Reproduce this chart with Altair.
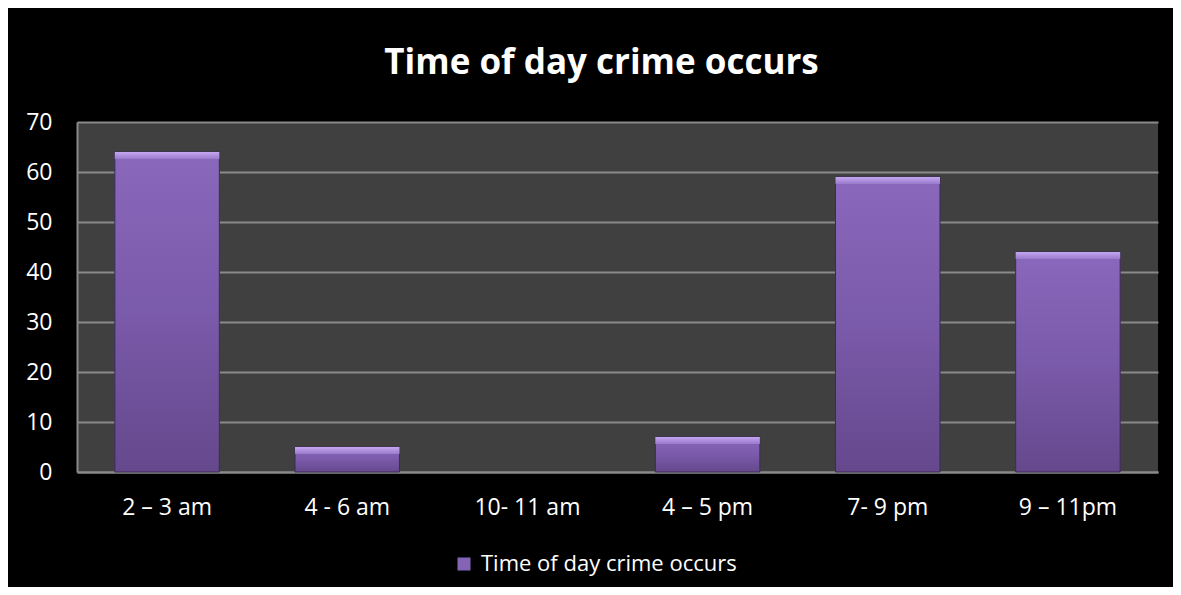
import altair as alt
import pandas as pd

categories = ["2 – 3 am", "4 - 6 am", "10- 11 am", "4 – 5 pm", "7- 9 pm", "9 – 11pm"]
values = [64, 5, 0, 7, 59, 44]
series_name = "Time of day crime occurs"

df = pd.DataFrame({"slot": categories, "count": values, "series": [series_name] * len(categories)})

FONT = "Open Sans"

x_enc = alt.X("slot:N", sort=categories, title=None,
              scale=alt.Scale(paddingInner=0.42, paddingOuter=0.21),
              axis=alt.Axis(labelAngle=0, labelColor="white", labelFont=FONT, labelFontSize=23,
                            labelPadding=24, ticks=False, domainColor="#8a8a8a", domainWidth=2,
                            grid=False))
y_enc = alt.Y("count:Q", title=None,
              scale=alt.Scale(domain=[0, 70]),
              axis=alt.Axis(values=[0, 10, 20, 30, 40, 50, 60, 70], labelColor="white", labelFont=FONT,
                            labelFontSize=23, labelPadding=25, ticks=False, domainColor="#8a8a8a",
                            domainWidth=2, gridColor="#8a8a8a", gridWidth=2))

base = alt.Chart(df)

legend_bars = base.mark_bar().encode(
    x=x_enc, y=y_enc,
    color=alt.Color("series:N", scale=alt.Scale(range=["#8464b4"]),
                    legend=alt.Legend(title=None, orient="none", legendX=376, legendY=431,
                                      symbolType="square", symbolSize=170, labelColor="white",
                                      labelFont=FONT, labelFontSize=22, symbolStrokeWidth=0,
                                      labelOffset=6, labelLimit=0)),
)

grad = alt.Gradient(gradient="linear", x1=0, x2=0, y1=0, y2=1,
                    stops=[alt.GradientStop(color="#8a68bc", offset=0),
                           alt.GradientStop(color="#7a5aaa", offset=0.5),
                           alt.GradientStop(color="#65488c", offset=1)])

main_bars = base.transform_filter("datum.count > 0").mark_bar(
    color=grad, stroke="#3a2a55", strokeWidth=1).encode(x=x_enc, y=y_enc)

bevel_grad = alt.Gradient(gradient="linear", x1=0, x2=0, y1=0, y2=1,
                          stops=[alt.GradientStop(color="#c4a6f2", offset=0),
                                 alt.GradientStop(color="#9a7acb", offset=1)])
bevel = base.transform_filter("datum.count > 0").transform_calculate(
    lower="datum.count - 1.4"
).mark_bar(color=bevel_grad).encode(x=x_enc, y=y_enc, y2="lower:Q")

chart = alt.layer(legend_bars, main_bars, bevel).properties(
    width=1081, height=350,
    background="black",
    padding={"left": 69, "top": 114, "right": 15, "bottom": 115},
    autosize=alt.AutoSizeParams(type="none"),
    title=alt.TitleParams(series_name, color="white", font=FONT, fontSize=35, fontWeight="bold",
                          anchor="middle", dx=-16, offset=30),
).configure_view(fill="#404040", stroke=None)

chart.save("out.html", embed_options={"renderer": "svg", "actions": False})
